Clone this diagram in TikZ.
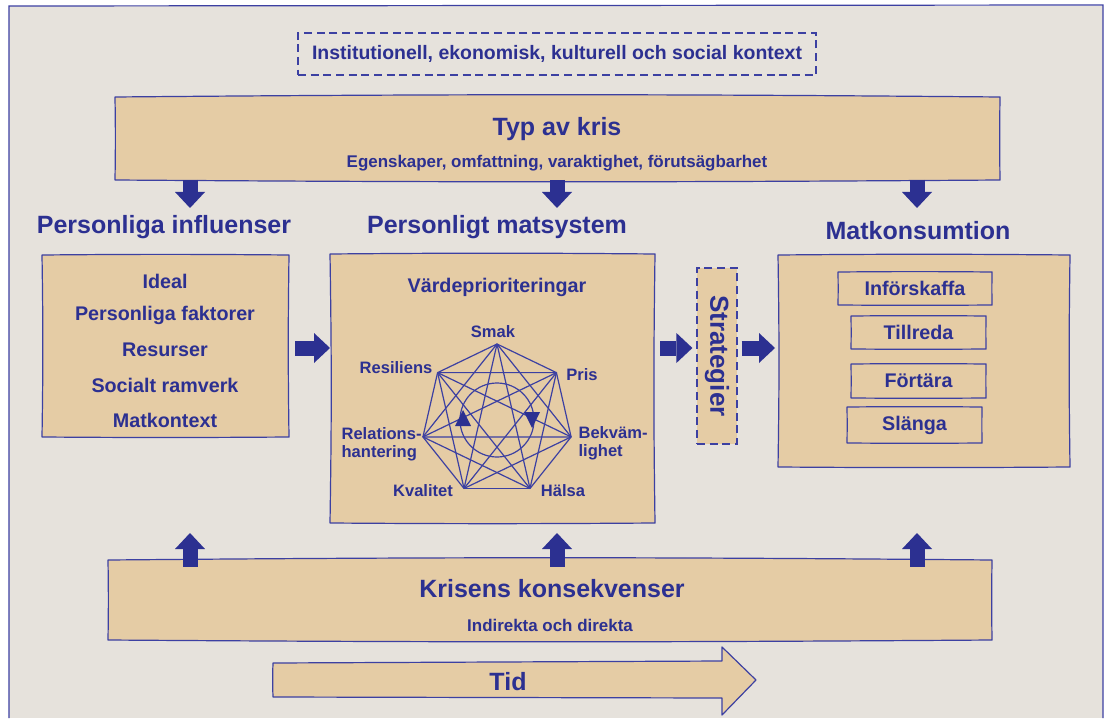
\documentclass[tikz,border=0pt]{standalone}
\usepackage{fontspec}
\setmainfont{Liberation Sans}
\usetikzlibrary{arrows.meta,fit,calc}
\definecolor{paper}{RGB}{230,226,220}
\definecolor{boxtan}{RGB}{229,204,165}
\definecolor{ink}{RGB}{44,48,145}
\definecolor{rule}{RGB}{60,64,162}
% sketchy outline around a fitted area node
\newcommand\handframe[1]{%
  \path[handline] (#1.north west) to[bend left=0.5] (#1.north east)
     to[bend right=0.8] (#1.south east) to[bend left=0.4] (#1.south west)
     to[bend right=0.9] (#1.north west) -- cycle;}

\begin{document}
\begin{tikzpicture}[x=0.75pt,y=-0.75pt,
  slot/.style={inner sep=0pt,outer sep=0pt},
  handline/.style={draw=rule,line width=0.9pt,fill=boxtan,line join=round},
  dashframe/.style={draw=rule,line width=0.9pt,dash pattern=on 6pt off 3.5pt,inner sep=0pt},
  inktext/.style={text=ink,inner sep=1pt},
  heading/.style={inktext,font=\fontsize{18.75pt}{22pt}\selectfont\bfseries},
  context/.style={inktext,font=\fontsize{14.6pt}{17pt}\selectfont\bfseries},
  subline/.style={inktext,font=\fontsize{12.7pt}{15pt}\selectfont\bfseries},
  itemtext/.style={inktext,font=\fontsize{14.8pt}{17pt}\selectfont\bfseries},
  valuetext/.style={inktext,font=\fontsize{12.4pt}{13.5pt}\selectfont\bfseries},
  strattext/.style={inktext,font=\fontsize{19.5pt}{22pt}\selectfont\bfseries},
  blockarrow/.style={draw=ink,line width=11.25pt,
    -{Triangle[width=22.5pt,length=12pt,line width'=0pt]}},
  web/.style={draw=rule,line width=0.9pt},
]
\useasboundingbox (0,0) rectangle (1105,720);

% sheet
\fill[white] (0,0) rectangle (1105,720);
\fill[paper] (9,6) rectangle (1103,718);
\draw[rule,line width=0.9pt] (9,718) -- (9,6) -- (1103,5) -- (1103,718);

% context line
\node[dashframe, fit={(298,33)(816,75)}] (ctx) {};
\node[context] (ctxlabel) at (ctx.center) {Institutionell, ekonomisk, kulturell och social kontext};

% type of crisis
\node[slot, fit={(115,97)(1000,180)}] (typ) {};
\handframe{typ}
\node[heading] (typtitle) at (557,129) {Typ av kris};
\node[subline] (typsub) at (557,163) {Egenskaper, omfattning, varaktighet, förutsägbarhet};

% column headings
\node[heading] (hinfl) at (164,227) {Personliga influenser};
\node[heading] (hsys) at (497,227) {Personligt matsystem};
\node[heading] (hcons) at (918,231) {Matkonsumtion};

% personal influences
\node[slot, fit={(42,255)(289,437)}] (infl) {};
\handframe{infl}
\foreach \t/\y [count=\k] in {Ideal/281, Personliga faktorer/315, Resurser/350, Socialt ramverk/385, Matkontext/420}
  \node[itemtext] (inf\k) at (165,\y) {\t};

% personal food system
\node[slot, fit={(330,254)(655,523)}] (sys) {};
\handframe{sys}
\node[itemtext] (values) at (497,287) {Värdeprioriteringar};

\coordinate (hc) at (497,420);
\foreach \i in {0,...,6}
  \coordinate (v\i) at ($(hc)+(-90+\i*360/7:76)$);
\foreach \i in {0,...,5}{
  \pgfmathtruncatemacro\nexti{\i+1}
  \foreach \j in {\nexti,...,6}
    \draw[web] (v\i) -- (v\j);
}
\draw[web] (hc) circle[radius=37];
\fill[ink] (455,426) -- (471,426) -- (463,410) -- cycle;
\fill[ink] (524,412) -- (540,412) -- (532,428) -- cycle;

\node[valuetext] (lsmak) at (493,332) {Smak};
\node[valuetext] (lpris) at (582,375) {Pris};
\node[valuetext,anchor=west,align=left] (lbekv) at (577,443) {Bekväm-\\lighet};
\node[valuetext] (lhalsa) at (563,491) {Hälsa};
\node[valuetext] (lkval) at (423,491) {Kvalitet};
\node[valuetext,anchor=west,align=left] (lrel) at (340,444) {Relations-\\hantering};
\node[valuetext] (lres) at (396,368) {Resiliens};

% strategies
\node[dashframe, fill=boxtan, fit={(697,268)(737,444)}] (strat) {};
\node[strattext, rotate=-90] (stratlabel) at (strat.center) {Strategier};

% food consumption
\node[slot, fit={(778,255)(1070,467)}] (cons) {};
\handframe{cons}
\node[slot, fit={(838,272)(992,305)}] (c1) {};
\handframe{c1}
\node[itemtext] (c1t) at (c1.center) {Införskaffa};
\node[slot, fit={(851,316)(986,349)}] (c2) {};
\handframe{c2}
\node[itemtext] (c2t) at (c2.center) {Tillreda};
\node[slot, fit={(851,364)(986,398)}] (c3) {};
\handframe{c3}
\node[itemtext] (c3t) at (c3.center) {Förtära};
\node[slot, fit={(847,407)(982,443)}] (c4) {};
\handframe{c4}
\node[itemtext] (c4t) at (c4.center) {Slänga};

% consequences of the crisis
\node[slot, fit={(108,560)(992,640)}] (kris) {};
\handframe{kris}
\node[heading] (kristitle) at (552,589) {Krisens konsekvenser};
\node[subline] (krissub) at (550,625) {Indirekta och direkta};

% flow arrows
\coordinate (row) at (0,348);
\draw[blockarrow, shorten <=4.5pt] (infl.east |- row) -- (sys.west |- row);
\draw[blockarrow, shorten <=3.75pt, shorten >=3pt] (sys.east |- row) -- (strat.west |- row);
\draw[blockarrow, shorten <=3pt, shorten >=2.25pt] (strat.east |- row) -- (cons.west |- row);

\foreach \n/\x in {1/190,2/557,3/917}{
  \coordinate (dn\n) at (\x,208);
  \coordinate (up\n) at (\x,533);
  \draw[blockarrow] (typ.south -| dn\n) -- (dn\n);
  \draw[blockarrow, shorten <=-5pt] (kris.north -| up\n) -- (up\n);
}

% time arrow
\draw[handline] (273,663) -- (722,661) -- (722,647) -- (756,680) -- (722,715) -- (722,698) -- (273,697) to[bend left=2] cycle;
\node[heading] (tid) at (508,682) {Tid};
\end{tikzpicture}
\end{document}
